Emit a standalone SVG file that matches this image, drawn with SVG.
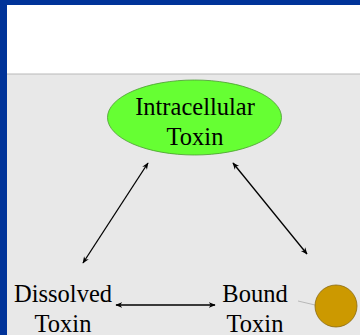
<svg xmlns="http://www.w3.org/2000/svg" width="360" height="335" viewBox="0 0 360 335">
<style>
text{font-family:"Liberation Serif","Times New Roman",serif;font-size:24.5px;fill:#000;text-anchor:middle}
.c{stroke:#000;stroke-width:1.3;fill:none;marker-start:url(#ah);marker-end:url(#ah)}
</style>
<defs>
<marker id="ah" viewBox="0 0 10 10" refX="9" refY="5" markerWidth="7" markerHeight="7" orient="auto-start-reverse" markerUnits="userSpaceOnUse">
<path d="M0,1 L10,5 L0,9 L3,5 Z" fill="#000"/>
</marker>
</defs>
<rect x="0" y="0" width="360" height="335" fill="#003399"/>
<rect x="7" y="5" width="353" height="69" fill="#ffffff"/>
<rect x="7" y="74" width="353" height="261" fill="#e8e8e8"/>
<line x1="7" y1="74" x2="360" y2="74" stroke="#b8b8b8" stroke-width="1"/>
<g id="connectors">
<line class="c" x1="148" y1="163" x2="83" y2="263"/>
<line class="c" x1="233" y1="163" x2="307" y2="254"/>
<line class="c" x1="116" y1="305" x2="215" y2="305"/>
<line x1="298" y1="301" x2="315" y2="305" stroke="#b8b8b8" stroke-width="1"/>
</g>
<g id="intracellular">
<ellipse cx="194.5" cy="117.5" rx="87" ry="37.5" fill="#66ff33" stroke="#4a9a30" stroke-width="0.8"/>
<text x="195" y="115">Intracellular</text>
<text x="195" y="145">Toxin</text>
</g>
<g id="dissolved">
<text x="63" y="302">Dissolved</text>
<text x="63" y="332">Toxin</text>
</g>
<g id="bound">
<text x="255" y="302">Bound</text>
<text x="255" y="332">Toxin</text>
</g>
<g id="particle">
<circle cx="336" cy="306" r="21" fill="#cc9900" stroke="#8a6a10" stroke-width="0.8"/>
</g>
</svg>
